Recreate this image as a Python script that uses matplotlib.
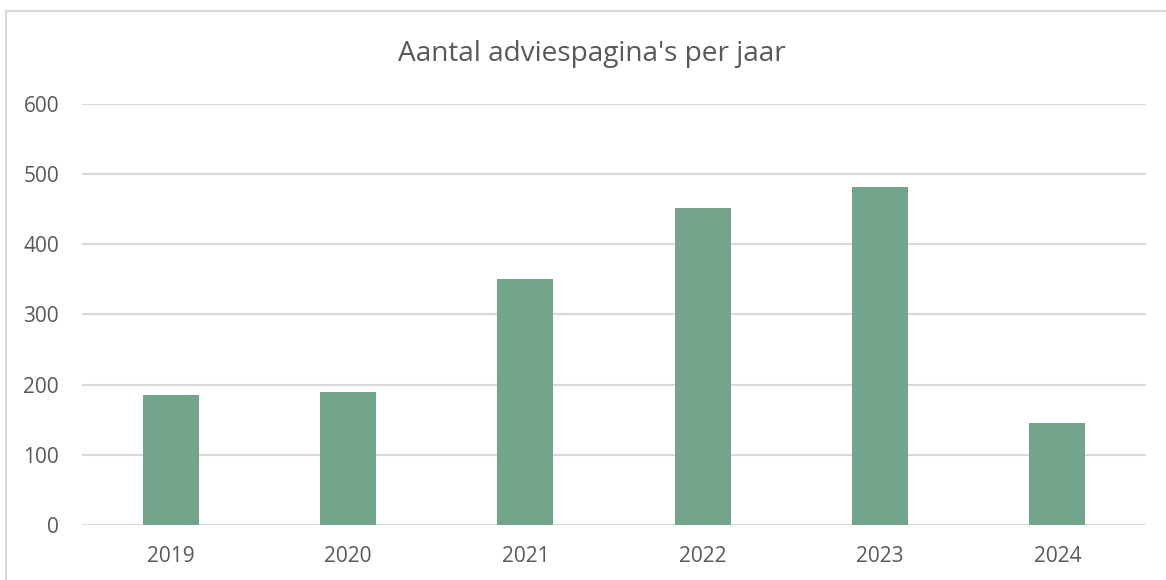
import matplotlib
matplotlib.use("Agg")
import matplotlib.pyplot as plt
from matplotlib.patches import Rectangle

years = ["2019", "2020", "2021", "2022", "2023", "2024"]
values = [186, 189, 351, 451, 481, 146]
yticks = [0, 100, 200, 300, 400, 500, 600]
title = "Aantal adviespagina's per jaar"

plt.rcParams['font.family'] = ['Open Sans', 'DejaVu Sans']
W, H = 1166, 580
fig = plt.figure(figsize=(W / 100, H / 100), dpi=100)
fig.patch.set_facecolor('white')

# outer chart frame
fig.add_artist(Rectangle((5.5 / W, -0.1), 1.2, (H - 11) / H + 0.1, transform=fig.transFigure,
                         fill=False, edgecolor='#D9D9D9', linewidth=1.5))

x0, x1 = 82, 1146
y_top, y_bot = 103.7, 525.3
ax = fig.add_axes([x0 / W, 1 - y_bot / H, (x1 - x0) / W, (y_bot - y_top) / H])
ax.set_facecolor('none')
pos = range(len(years))
ax.bar(pos, values, width=0.315, color='#73A48C', zorder=3)
ax.set_xlim(-0.5, len(years) - 0.5)
ax.set_ylim(0, 600)
ax.set_yticks(yticks)
ax.set_xticks(list(pos))
ax.set_xticklabels(years)
ax.grid(axis='y', color='#D9D9D9', linewidth=1.5, zorder=0)
for s in ax.spines.values():
    s.set_visible(False)
ax.tick_params(axis='both', length=0, labelsize=15, colors='#595959')
ax.tick_params(axis='y', pad=16.5)
ax.tick_params(axis='x', pad=15)
fig.text((398 + 785) / 2 / W, 1 - 54 / H, title, ha='center', va='center',
         fontsize=20.2, color='#595959')

fig.savefig("out.png", dpi=100)
